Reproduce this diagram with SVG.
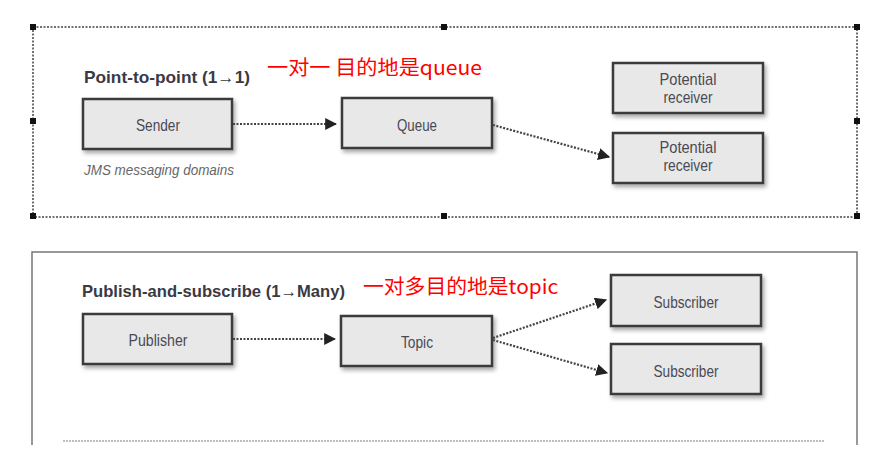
<svg xmlns="http://www.w3.org/2000/svg" width="889" height="453" viewBox="0 0 889 453">
<style>
.box{fill:#e8e8e8;stroke:#3a3a3a;stroke-width:2.5}
.lbl{font-family:"Liberation Sans",Arial,sans-serif;font-size:17px;fill:#4a4a55;text-anchor:middle}
.title{font-family:"Liberation Sans",Arial,sans-serif;font-size:17px;font-weight:bold;fill:#3a3a45}
.red{font-family:"Noto Sans CJK SC","Liberation Sans",sans-serif;font-size:20px;fill:#ff0000}
.conn{stroke:#444;stroke-width:2.2;stroke-dasharray:2 1.5;fill:none}
.handle{fill:#111}
</style>
<defs>
<filter id="sh" x="-10%" y="-20%" width="130%" height="150%">
<feDropShadow dx="2" dy="3" stdDeviation="2" flood-color="#000" flood-opacity="0.35"/>
</filter>
<marker id="ah" viewBox="0 0 10 10" refX="9" refY="5" markerWidth="12" markerHeight="12" markerUnits="userSpaceOnUse" orient="auto">
<path d="M0,0 L10,5 L0,10 z" fill="#222"/>
</marker>
</defs>
<rect width="889" height="453" fill="#ffffff"/>

<g id="frame-top">
<rect x="33" y="27" width="824" height="190" fill="none" stroke="#444" stroke-width="1.5" stroke-dasharray="2 1.5"/>
<rect class="handle" x="30" y="24" width="6" height="6"/>
<rect class="handle" x="441" y="24" width="6" height="6"/>
<rect class="handle" x="854" y="24" width="6" height="6"/>
<rect class="handle" x="30" y="118" width="6" height="6"/>
<rect class="handle" x="854" y="118" width="6" height="6"/>
<rect class="handle" x="30" y="213" width="6" height="6"/>
<rect class="handle" x="441" y="213" width="6" height="6"/>
<rect class="handle" x="854" y="213" width="6" height="6"/>
</g>

<g id="frame-bottom">
<path d="M32,445 L32,252 L857,252 L857,445" fill="none" stroke="#777" stroke-width="1.5"/>
<line x1="63" y1="441" x2="825" y2="441" stroke="#aaa" stroke-width="1.5" stroke-dasharray="2 1"/>
</g>

<g id="texts">
<text class="title" x="84" y="83" textLength="166" lengthAdjust="spacingAndGlyphs">Point-to-point (1→1)</text>
<text x="84" y="175" font-family="Liberation Sans,Arial,sans-serif" font-size="15" font-style="italic" fill="#666" textLength="150" lengthAdjust="spacingAndGlyphs">JMS messaging domains</text>
<text class="red" x="267" y="75" textLength="215" lengthAdjust="spacingAndGlyphs">一对一 目的地是queue</text>
<text class="title" x="82" y="297" textLength="263" lengthAdjust="spacingAndGlyphs">Publish-and-subscribe (1→Many)</text>
<text class="red" x="363" y="294" textLength="195" lengthAdjust="spacingAndGlyphs">一对多目的地是topic</text>
</g>

<g id="sender">
<rect class="box" x="83" y="99" width="149" height="50" filter="url(#sh)"/>
<text class="lbl" x="158" y="131" textLength="44" lengthAdjust="spacingAndGlyphs">Sender</text>
</g>
<g id="queue">
<rect class="box" x="342" y="98" width="150" height="50" filter="url(#sh)"/>
<text class="lbl" x="417" y="131" textLength="40" lengthAdjust="spacingAndGlyphs">Queue</text>
</g>
<g id="receiver1">
<rect class="box" x="613" y="63" width="150" height="50" filter="url(#sh)"/>
<text class="lbl" x="688" y="85" textLength="57" lengthAdjust="spacingAndGlyphs">Potential</text>
<text class="lbl" x="688" y="103" textLength="49" lengthAdjust="spacingAndGlyphs">receiver</text>
</g>
<g id="receiver2">
<rect class="box" x="613" y="133" width="150" height="50" filter="url(#sh)"/>
<text class="lbl" x="688" y="153" textLength="57" lengthAdjust="spacingAndGlyphs">Potential</text>
<text class="lbl" x="688" y="171" textLength="49" lengthAdjust="spacingAndGlyphs">receiver</text>
</g>
<g id="publisher">
<rect class="box" x="83" y="314" width="149" height="50" filter="url(#sh)"/>
<text class="lbl" x="158" y="346" textLength="59" lengthAdjust="spacingAndGlyphs">Publisher</text>
</g>
<g id="topic">
<rect class="box" x="341" y="316" width="151" height="50" filter="url(#sh)"/>
<text class="lbl" x="417" y="348" textLength="32" lengthAdjust="spacingAndGlyphs">Topic</text>
</g>
<g id="subscriber1">
<rect class="box" x="611" y="275" width="150" height="51" filter="url(#sh)"/>
<text class="lbl" x="686" y="308" textLength="65" lengthAdjust="spacingAndGlyphs">Subscriber</text>
</g>
<g id="subscriber2">
<rect class="box" x="611" y="344" width="150" height="50" filter="url(#sh)"/>
<text class="lbl" x="686" y="377" textLength="65" lengthAdjust="spacingAndGlyphs">Subscriber</text>
</g>

<g id="connectors">
<line class="conn" x1="233" y1="124" x2="336" y2="124" marker-end="url(#ah)"/>
<line class="conn" x1="493" y1="125" x2="609" y2="157" marker-end="url(#ah)"/>
<line class="conn" x1="233" y1="339" x2="335" y2="339" marker-end="url(#ah)"/>
<line class="conn" x1="493" y1="338" x2="606" y2="300" marker-end="url(#ah)"/>
<line class="conn" x1="493" y1="340" x2="607" y2="373" marker-end="url(#ah)"/>
</g>
</svg>
